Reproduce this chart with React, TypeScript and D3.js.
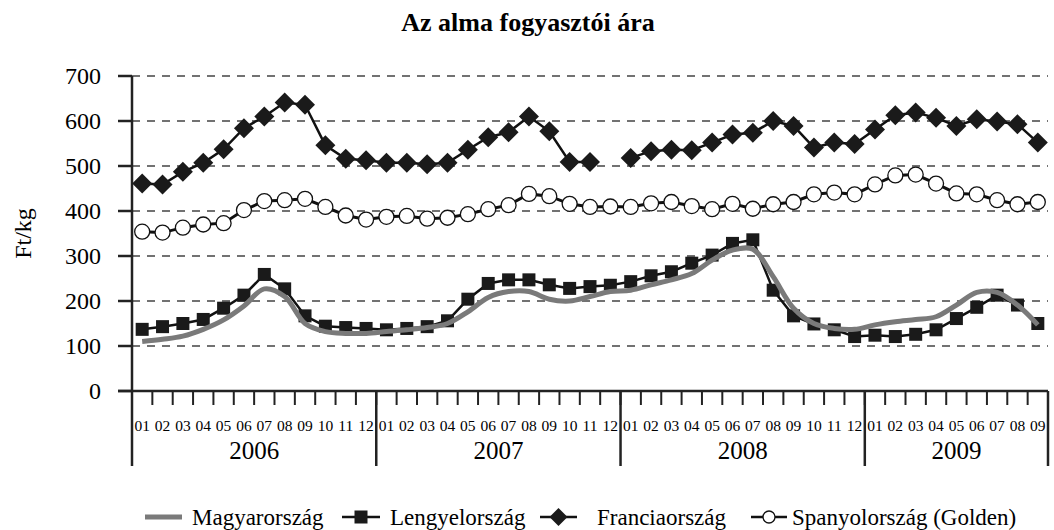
import React from "react";
import * as d3 from "d3";

const years = ["2006", "2007", "2008", "2009"];
const monthsPerYear = [12, 12, 12, 9];
const months: string[] = [];
monthsPerYear.forEach((n) => {
  for (let m = 1; m <= n; m++) months.push(String(m).padStart(2, "0"));
});
const yTicks = [0, 100, 200, 300, 400, 500, 600, 700];

const magyar = [110, 115, 122, 137, 158, 189, 227, 210, 150, 132, 128, 128,
  132, 136, 141, 150, 176, 208, 221, 221, 204, 200, 210, 221,
  224, 236, 247, 261, 291, 313, 315, 254, 184, 150, 139, 137,
  147, 154, 159, 165, 191, 219, 219, 191, 147];
const lengyel = [137, 143, 150, 159, 184, 213, 259, 227, 167, 144, 141, 139,
  136, 139, 143, 156, 204, 239, 247, 247, 236, 228, 232, 235,
  243, 256, 265, 284, 302, 328, 336, 224, 167, 149, 136, 121,
  124, 121, 126, 136, 161, 186, 213, 191, 150];
const francia: (number | null)[] = [461, 459, 487, 507, 537, 584, 610, 641, 636, 546, 516, 513,
  507, 507, 504, 507, 536, 564, 575, 610, 577, 509, 509, null,
  518, 533, 536, 535, 552, 570, 574, 600, 589, 541, 552, 549,
  581, 613, 619, 607, 589, 604, 599, 593, 552];
const spanyol = [354, 352, 363, 370, 373, 402, 422, 424, 427, 409, 390, 381,
  387, 389, 383, 385, 393, 404, 413, 438, 433, 416, 409, 410,
  409, 417, 420, 411, 404, 416, 405, 415, 420, 437, 441, 437,
  459, 479, 481, 461, 439, 437, 424, 415, 420];

const title = "Az alma fogyasztói ára";
const yLabel = "Ft/kg";
const legendNames = ["Magyarország", "Lengyelország", "Franciaország", "Spanyolország (Golden)"];

const W = 1054, H = 530;
const left = 132, right = 1048, top = 76, bottom = 391;
const FONT = "'Liberation Serif', 'Times New Roman', serif";

export default function App() {
  const x = d3.scaleBand<number>().domain(d3.range(months.length)).range([left, right]).paddingInner(0).paddingOuter(0);
  const cx = (i: number) => (x(i) as number) + x.bandwidth() / 2;
  const y = d3.scaleLinear().domain([0, 700]).range([bottom, top]);

  const lineStraight = d3.line<number | null>()
    .defined((d) => d !== null)
    .x((_, i) => cx(i))
    .y((d) => y(d as number));
  const lineSmooth = d3.line<number>()
    .x((_, i) => cx(i))
    .y((d) => y(d))
    .curve(d3.curveCatmullRom.alpha(0.5));

  const bounds: number[] = [left];
  let acc = 0;
  monthsPerYear.forEach((n) => { acc += n; bounds.push(left + acc * x.bandwidth()); });

  const diamond = (px: number, py: number, r: number) =>
    `M${px},${py - r}L${px + r},${py}L${px},${py + r}L${px - r},${py}Z`;

  const legendX = [145, 342, 540, 751];
  const legendY = 517;

  return (
    <svg width={W} height={H} style={{ position: "absolute", left: 0, top: 0, background: "#fff" }} fontFamily={FONT}>
      <text x={528} y={31} textAnchor="middle" fontWeight="bold" fontSize={26}>{title}</text>
      {yTicks.filter((t) => t > 0).map((t) => (
        <line key={t} x1={left} x2={right} y1={y(t)} y2={y(t)} stroke="#444" strokeWidth={1.5} strokeDasharray="8,7" />
      ))}
      <line x1={left} x2={left} y1={top} y2={bottom} stroke="#222" strokeWidth={2.5} />
      {yTicks.map((t) => (
        <g key={t}>
          <line x1={118} x2={left} y1={y(t)} y2={y(t)} stroke="#222" strokeWidth={2.5} />
          <text x={101} y={y(t) + 8} textAnchor="end" fontSize={24}>{t}</text>
        </g>
      ))}
      <text transform={`translate(31,${(top + bottom) / 2}) rotate(-90)`} textAnchor="middle" fontSize={24}>{yLabel}</text>
      <line x1={118} x2={right} y1={bottom} y2={bottom} stroke="#222" strokeWidth={2.5} />
      {months.map((m, i) => (
        <g key={i}>
          {i > 0 && <line x1={x(i) as number} x2={x(i) as number} y1={bottom} y2={bottom + 14} stroke="#222" strokeWidth={2} />}
          <text x={cx(i)} y={431} textAnchor="middle" fontSize={15.5}>{m}</text>
        </g>
      ))}
      {bounds.map((b, i) => (
        <line key={i} x1={b} x2={b} y1={bottom} y2={466} stroke="#222" strokeWidth={2.5} />
      ))}
      {years.map((yr, i) => (
        <text key={yr} x={(bounds[i] + bounds[i + 1]) / 2} y={459} textAnchor="middle" fontSize={25}>{yr}</text>
      ))}
      <path d={lineStraight(spanyol) || ""} fill="none" stroke="#111" strokeWidth={3} />
      {spanyol.map((v, i) => (
        <circle key={i} cx={cx(i)} cy={y(v)} r={7.5} fill="#fff" stroke="#111" strokeWidth={1.3} />
      ))}
      <path d={lineStraight(francia) || ""} fill="none" stroke="#111" strokeWidth={2.5} />
      {francia.map((v, i) => v === null ? null : (
        <path key={i} d={diamond(cx(i), y(v), 10)} fill="#1a1a1a" />
      ))}
      <path d={lineStraight(lengyel) || ""} fill="none" stroke="#111" strokeWidth={2.5} />
      {lengyel.map((v, i) => (
        <rect key={i} x={cx(i) - 6.5} y={y(v) - 6.5} width={13} height={13} fill="#1a1a1a" />
      ))}
      <path d={lineSmooth(magyar) || ""} fill="none" stroke="#7a7a7a" strokeWidth={5} strokeLinejoin="round" />
      <g>
        <line x1={legendX[0]} x2={legendX[0] + 37} y1={legendY} y2={legendY} stroke="#7a7a7a" strokeWidth={5} />
        <text x={legendX[0] + 47} y={legendY + 8} fontSize={23}>{legendNames[0]}</text>
        <line x1={legendX[1]} x2={legendX[1] + 38} y1={legendY} y2={legendY} stroke="#111" strokeWidth={2.5} />
        <rect x={legendX[1] + 19 - 6.5} y={legendY - 6.5} width={13} height={13} fill="#1a1a1a" />
        <text x={legendX[1] + 48} y={legendY + 8} fontSize={23}>{legendNames[1]}</text>
        <line x1={legendX[2]} x2={legendX[2] + 37} y1={legendY} y2={legendY} stroke="#111" strokeWidth={2.5} />
        <path d={diamond(legendX[2] + 18.5, legendY, 9)} fill="#1a1a1a" />
        <text x={legendX[2] + 57} y={legendY + 8} fontSize={23}>{legendNames[2]}</text>
        <line x1={legendX[3]} x2={legendX[3] + 36} y1={legendY} y2={legendY} stroke="#111" strokeWidth={2.5} />
        <circle cx={legendX[3] + 18} cy={legendY} r={6} fill="#fff" stroke="#111" strokeWidth={1.3} />
        <text x={legendX[3] + 41} y={legendY + 8} fontSize={23}>{legendNames[3]}</text>
      </g>
    </svg>
  );
}
